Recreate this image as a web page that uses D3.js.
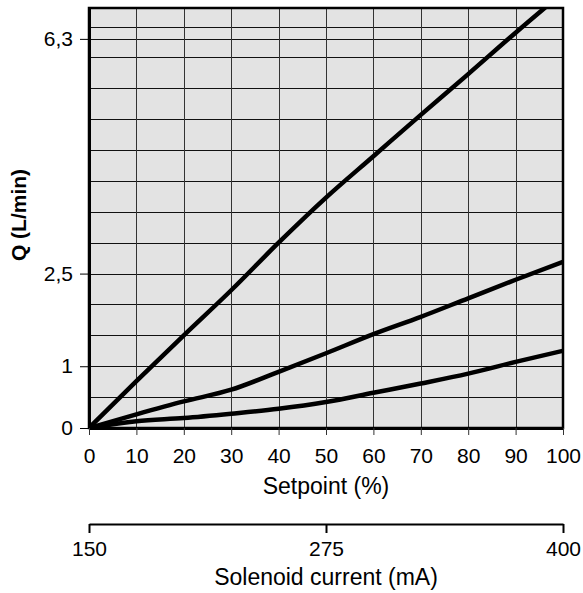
<!DOCTYPE html>
<html>
<head>
<meta charset="utf-8">
<script src="https://cdn.jsdelivr.net/npm/d3@7"></script>
<style>
body { margin:0; background:#fff; }
text { font-family: "Liberation Sans", Arial, sans-serif; }
</style>
</head>
<body>
<div id="chart-area"></div>
<script>
// setpoint in %, flow in L/min
var setpoints = [0, 10, 20, 30, 40, 50, 60, 70, 80, 90, 100];
var flowHigh = [0, 0.76, 1.50, 2.23, 3.00, 3.73, 4.40, 5.07, 5.73, 6.40, 7.05];
var flowMid = [0, 0.22, 0.43, 0.62, 0.91, 1.21, 1.52, 1.80, 2.10, 2.40, 2.69];
var flowLow = [0, 0.11, 0.16, 0.23, 0.31, 0.42, 0.57, 0.72, 0.88, 1.07, 1.25];

var yTicks = [0, 1, 2.5, 6.3];
var yTickLabels = ["0", "1", "2,5", "6,3"];
var xTicks = [0, 10, 20, 30, 40, 50, 60, 70, 80, 90, 100];
var currentTicks = [150, 275, 400];

var margin = { top:8, right:20, bottom:165, left:89 };
var width = 583 - margin.left - margin.right;
var height = 593 - margin.top - margin.bottom;

var svg = d3.select("#chart-area")
	.append("svg")
		.attr("width", 583)
		.attr("height", 593);
var g = svg.append("g")
	.attr("transform", "translate(" + margin.left + "," + margin.top + ")");

var x = d3.scaleLinear()
	.domain([0, 100])
	.range([0, width]);

var y = d3.scaleLinear()
	.domain([0, 6.8])
	.range([height, 0]);

var mA = d3.scaleLinear()
	.domain([150, 400])
	.range([0, width]);

// plot background
g.append("rect")
	.attr("width", width)
	.attr("height", height)
	.attr("fill", "#e3e3e3");

// grid
var hLines = d3.range(0.5, 6.6, 0.5).concat([6.3]);
g.append("g")
	.attr("class", "grid")
	.selectAll("line")
	.data(hLines)
	.enter()
	.append("line")
		.attr("x1", 0)
		.attr("x2", width)
		.attr("y1", function(d){ return Math.round(y(d)) + 0.5; })
		.attr("y2", function(d){ return Math.round(y(d)) + 0.5; })
		.attr("stroke", "#111")
		.attr("stroke-width", 1);

g.append("g")
	.attr("class", "grid")
	.selectAll("line")
	.data(xTicks.slice(1, -1))
	.enter()
	.append("line")
		.attr("x1", function(d){ return Math.round(x(d)) + 0.5; })
		.attr("x2", function(d){ return Math.round(x(d)) + 0.5; })
		.attr("y1", 0)
		.attr("y2", height)
		.attr("stroke", "#333")
		.attr("stroke-width", 1);

// curves
g.append("clipPath")
	.attr("id", "clip")
	.append("rect")
		.attr("width", width)
		.attr("height", height);

var line = d3.line()
	.curve(d3.curveMonotoneX)
	.x(function(d){ return x(d[0]); })
	.y(function(d){ return y(d[1]); });

[flowHigh, flowMid, flowLow].forEach(function(series){
	g.append("path")
		.datum(setpoints.map(function(s, i){ return [s, series[i]]; }))
		.attr("clip-path", "url(#clip)")
		.attr("fill", "none")
		.attr("stroke", "#000")
		.attr("stroke-width", 4.5)
		.attr("stroke-linejoin", "round")
		.attr("d", line);
});

// frame
g.append("rect")
	.attr("width", width)
	.attr("height", height)
	.attr("fill", "none")
	.attr("stroke", "#000")
	.attr("stroke-width", 2.5);

// axes
var leftAxis = d3.axisLeft(y)
	.tickValues(yTicks)
	.tickFormat(function(d, i){ return yTickLabels[i]; })
	.tickSize(9)
	.tickPadding(7)
	.tickSizeOuter(0);
var yAxisG = g.append("g")
	.attr("class", "left axis")
	.call(leftAxis);
yAxisG.select(".domain").attr("stroke-width", 3);
yAxisG.selectAll("text").attr("font-size", "21px").attr("fill", "#000")
	.style("font-family", "'Liberation Sans', Arial, sans-serif");

var bottomAxis = d3.axisBottom(x)
	.tickValues(xTicks)
	.tickSize(7)
	.tickPadding(13)
	.tickSizeOuter(0);
var xAxisG = g.append("g")
	.attr("class", "bottom axis")
	.attr("transform", "translate(0," + height + ")")
	.call(bottomAxis);
xAxisG.select(".domain").attr("stroke-width", 3);
xAxisG.selectAll("line").attr("stroke", "#333");
xAxisG.selectAll("text").attr("font-size", "21px").attr("fill", "#000")
	.style("font-family", "'Liberation Sans', Arial, sans-serif");

g.append("text")
	.attr("class", "x axis-label")
	.attr("x", width / 2)
	.attr("y", height + 66)
	.attr("font-size", "23px")
	.attr("text-anchor", "middle")
	.text("Setpoint (%)");

g.append("text")
	.attr("class", "y axis-label")
	.attr("x", -215 + margin.top)
	.attr("y", -63)
	.attr("font-size", "21px")
	.attr("font-weight", "bold")
	.attr("transform", "rotate(-90)")
	.attr("text-anchor", "middle")
	.text("Q (L/min)");

// solenoid current axis
var currentAxis = d3.axisBottom(mA)
	.tickValues(currentTicks)
	.tickSize(9)
	.tickPadding(8)
	.tickSizeOuter(0);
var cAxisG = g.append("g")
	.attr("class", "current axis")
	.attr("transform", "translate(0," + (height + 96) + ")")
	.call(currentAxis);
cAxisG.select(".domain").attr("stroke-width", 2);
cAxisG.selectAll("line").attr("stroke-width", 2);
cAxisG.selectAll("text").attr("font-size", "21px").attr("fill", "#000")
	.style("font-family", "'Liberation Sans', Arial, sans-serif");

g.append("text")
	.attr("class", "current axis-label")
	.attr("x", width / 2)
	.attr("y", height + 157)
	.attr("font-size", "23px")
	.attr("text-anchor", "middle")
	.text("Solenoid current (mA)");
</script>
</body>
</html>
